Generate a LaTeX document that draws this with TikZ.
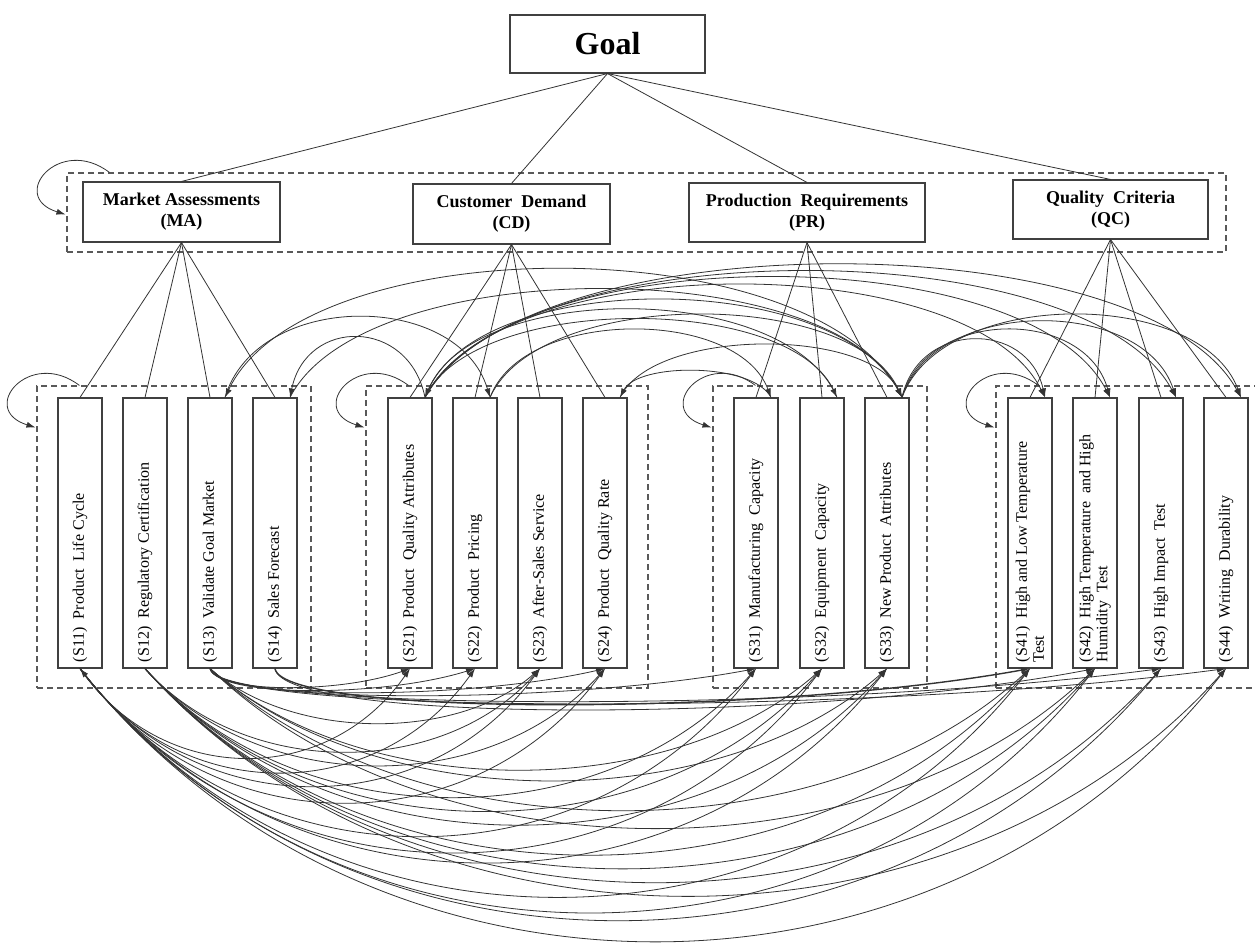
\documentclass[tikz,border=0pt]{standalone}
\usepackage{fontspec}
\setmainfont{Liberation Serif}
\usetikzlibrary{arrows.meta,calc}
\tikzset{
 con/.style={draw=black!80, line width=0.8pt},
 arr/.style={-{Latex[length=9pt,width=6pt]}},
 dbox/.style={draw=black!65, line width=1.1pt, dash pattern=on 6pt off 4pt, minimum height=302pt, inner sep=0pt},
 crit/.style={draw=black!75, line width=1.1pt, align=center, font=\bfseries\fontsize{18}{21}\selectfont, inner sep=0pt},
 goalbox/.style={draw=black!75, line width=1.1pt, font=\bfseries\fontsize{32}{36}\selectfont, minimum width=195pt, minimum height=58pt, inner sep=0pt},
 subbox/.style={draw=black!75, line width=1.1pt, minimum width=44pt, minimum height=270pt, inner sep=0pt, font=\fontsize{16}{17}\selectfont},
}
\newcommand\subtxt[1]{\rotatebox{90}{\parbox{258pt}{\raggedright #1}}}
\newcommand\TopArc[3]{\draw[con,arr] let \p1=([xshift=15pt]#1.north), \p2=([xshift=15pt]#2.north), \n1={\x2-\x1} in (\p1) .. controls +(0.12*\n1,#3pt) and +(-0.12*\n1,#3pt) .. (\p2);}
\newcommand\BotArc[3]{\draw[con,arr] let \p1=(#1.south), \p2=(#2.south), \n1={\x2-\x1}, \n2={abs(\x2-\x1)} in (\p1) .. controls +(0.25*\n1,-#3*\n2) and +(-0.25*\n1,-#3*\n2) .. (\p2);}
\newcommand\FlatArc[4][]{\draw[con,arr,#1] let \p1=(#2.south), \p2=(#3.south), \n1={\x2-\x1} in (\p1) .. controls +(8pt,-#4pt) and +(-0.35*\n1,-#4pt) .. (\p2);}
\newcommand\SelfLoop[1]{\draw[con,arr] ([xshift=43pt]#1.north west) .. controls +(-50pt,38pt) and +(-58pt,18pt) .. ([xshift=-1pt,yshift=-42pt]#1.north west);}
\begin{document}
\begin{tikzpicture}[x=1pt,y=1pt]
\useasboundingbox (0,0) rectangle (1255,-947);
% dashed group boxes
\node[dbox, minimum width=1159pt, minimum height=79pt] (T) at (646.5,-212.5) {};
\node[dbox, minimum width=274pt] (G1) at (174,-537) {};
\node[dbox, minimum width=282pt] (G2) at (507,-537) {};
\node[dbox, minimum width=214pt] (G3) at (820,-537) {};
\node[dbox, minimum width=266pt] (G4) at (1129,-537) {};
% goal and criteria
\node[goalbox] (Goal) at (607.5,-44) {Goal};
\node[crit, minimum width=197pt, minimum height=60pt] (MA) at (181.5,-212) {Market Assessments\\(MA)};
\node[crit, minimum width=197pt, minimum height=60pt] (CD) at (511.5,-214) {Customer\ \ Demand\\(CD)};
\node[crit, minimum width=236pt, minimum height=59pt] (PR) at (807,-212.5) {Production\ \ Requirements\\(PR)};
\node[crit, minimum width=195pt, minimum height=59pt] (QC) at (1110.5,-209.5) {Quality\ \ Criteria\\(QC)};
% sub-criteria
\node[subbox] (S11) at (80,-533) {\subtxt{(S11)\ \ Product\ \ Life Cycle}};
\node[subbox] (S12) at (145,-533) {\subtxt{(S12)\ \ Regulatory Certification}};
\node[subbox] (S13) at (210,-533) {\subtxt{(S13)\ \ Validate Goal Market}};
\node[subbox] (S14) at (275,-533) {\subtxt{(S14)\ \ Sales Forecast}};
\node[subbox] (S21) at (410,-533) {\subtxt{(S21)\ \ Product\ \ Quality Attributes}};
\node[subbox] (S22) at (475,-533) {\subtxt{(S22)\ \ Product\ \ Pricing}};
\node[subbox] (S23) at (540,-533) {\subtxt{(S23)\ \ After-Sales Service}};
\node[subbox] (S24) at (605,-533) {\subtxt{(S24)\ \ Product\ \ Quality Rate}};
\node[subbox] (S31) at (756,-533) {\subtxt{(S31)\ \ Manufacturing\ \ Capacity}};
\node[subbox] (S32) at (822,-533) {\subtxt{(S32)\ \ Equipment\ \ Capacity}};
\node[subbox] (S33) at (887,-533) {\subtxt{(S33)\ \ New Product\ \ Attributes}};
\node[subbox] (S41) at (1030,-533) {\subtxt{(S41)\ \ High and Low Temperature\\Test}};
\node[subbox] (S42) at (1095,-533) {\subtxt{(S42)\ \ High Temperature\ \ and High\\Humidity\ \ Test}};
\node[subbox] (S43) at (1161,-533) {\subtxt{(S43)\ \ High Impact\ \ Test}};
\node[subbox] (S44) at (1226,-533) {\subtxt{(S44)\ \ Writing\ \ Durability}};
% goal links
\foreach \c in {MA,CD,PR,QC} \draw[con] (Goal.south) -- (\c.north);
% criteria links
\foreach \s in {S11,S12,S13,S14} \draw[con] (MA.south) -- (\s.north);
\foreach \s in {S21,S22,S23,S24} \draw[con] (CD.south) -- (\s.north);
\foreach \s in {S31,S32,S33} \draw[con] (PR.south) -- (\s.north);
\foreach \s in {S41,S42,S43,S44} \draw[con] (QC.south) -- (\s.north);
% self loops
\SelfLoop{T}
\SelfLoop{G1}
\SelfLoop{G2}
\SelfLoop{G3}
\SelfLoop{G4}
% upper interdependencies
\TopArc{S33}{S13}{171}
\TopArc{S21}{S14}{80}
\TopArc{S13}{S22}{107}
\TopArc{S31}{S24}{35}
\TopArc{S33}{S21}{130}
\TopArc{S32}{S21}{117}
\TopArc{S21}{S41}{150}
\TopArc{S21}{S42}{160}
\TopArc{S21}{S43}{168}
\TopArc{S21}{S44}{177}
\TopArc{S22}{S31}{90}
\TopArc{S21}{S32}{104}
\TopArc{S14}{S33}{144}
\TopArc{S22}{S33}{110}
\TopArc{S24}{S33}{70}
\TopArc{S33}{S41}{77}
\TopArc{S33}{S42}{90}
\TopArc{S33}{S43}{101}
\TopArc{S33}{S44}{110}
% lower interdependencies
\BotArc{S11}{S21}{0.36}
\BotArc{S11}{S22}{0.35}
\BotArc{S11}{S23}{0.34}
\BotArc{S11}{S24}{0.34}
\BotArc{S11}{S31}{0.33}
\BotArc{S11}{S32}{0.33}
\BotArc{S11}{S33}{0.32}
\BotArc{S11}{S41}{0.32}
\BotArc{S11}{S42}{0.32}
\BotArc{S11}{S44}{0.317}
\BotArc{S43}{S11}{0.31}
\BotArc{S12}{S23}{0.28}
\BotArc{S12}{S24}{0.28}
\BotArc{S12}{S31}{0.28}
\BotArc{S12}{S32}{0.28}
\BotArc{S12}{S33}{0.28}
\BotArc{S12}{S41}{0.28}
\BotArc{S12}{S42}{0.28}
\BotArc{S12}{S43}{0.28}
\BotArc{S12}{S44}{0.28}
\BotArc{S13}{S23}{0.22}
\BotArc{S13}{S32}{0.22}
\BotArc{S13}{S33}{0.22}
\BotArc{S13}{S41}{0.23}
\BotArc{S13}{S42}{0.24}
\FlatArc{S13}{S21}{25}
\FlatArc{S13}{S22}{29}
\FlatArc{S13}{S24}{32}
\FlatArc{S13}{S31}{36}
\FlatArc{S13}{S43}{44}
\FlatArc{S13}{S44}{47}
\FlatArc[line width=1.4pt]{S14}{S41}{48}
\FlatArc{S14}{S42}{55}
\end{tikzpicture}
\end{document}
